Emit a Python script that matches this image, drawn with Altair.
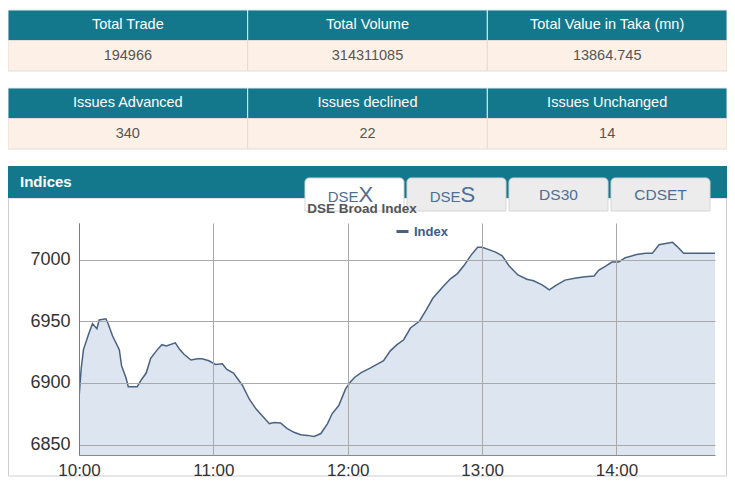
import altair as alt
import pandas as pd

# ---------------- data ----------------
t1_headers = ["Total Trade", "Total Volume", "Total Value in Taka (mn)"]
t1_values = ["194966", "314311085", "13864.745"]
t2_headers = ["Issues Advanced", "Issues declined", "Issues Unchanged"]
t2_values = ["340", "22", "14"]

panel_title = "Indices"
tabs = ["DSEX", "DSES", "DS30", "CDSET"]
tab_prefix = ["DSE", "DSE", "DS30", "CDSET"]
tab_suffix = ["X", "S", "", ""]
tab_active = [True, False, False, False]

chart_title = "DSE Broad Index"
series_name = "Index"

times = ["10:00", "10:01", "10:02", "10:04", "10:06", "10:08", "10:09", "10:12", "10:13", "10:15",
         "10:18", "10:19", "10:21", "10:22", "10:26", "10:28", "10:30", "10:32", "10:35", "10:37",
         "10:39", "10:43", "10:45", "10:47", "10:50", "10:53", "10:55", "10:58", "11:01", "11:04",
         "11:06", "11:09", "11:11", "11:13", "11:16", "11:19", "11:22", "11:25", "11:27", "11:30",
         "11:33", "11:36", "11:39", "11:42", "11:45", "11:48", "11:51", "11:53", "11:56", "11:59",
         "12:01", "12:03", "12:06", "12:10", "12:13", "12:16", "12:19", "12:22", "12:25", "12:28",
         "12:32", "12:35", "12:38", "12:43", "12:46", "12:49", "12:52", "12:55", "12:58", "13:00",
         "13:03", "13:06", "13:09", "13:12", "13:16", "13:20", "13:23", "13:27", "13:30", "13:33",
         "13:37", "13:42", "13:46", "13:50", "13:52", "13:55", "13:58", "14:01", "14:04", "14:09",
         "14:13", "14:16", "14:19", "14:22", "14:25", "14:27", "14:30", "14:44"]
index_values = [6888, 6912, 6927, 6938, 6948, 6944, 6951, 6952, 6948, 6938,
                6927, 6914, 6904, 6897, 6897, 6903, 6908, 6920, 6927, 6931,
                6930, 6932.5, 6927, 6923, 6918.6, 6919.6, 6919.6, 6918, 6915, 6915.5,
                6911, 6908, 6903, 6898, 6887, 6879, 6873, 6867, 6868, 6867.5,
                6863, 6860, 6858, 6857.5, 6856.6, 6859, 6867, 6875, 6881.7, 6895,
                6900.4, 6904.4, 6908.4, 6912, 6915, 6918, 6926, 6931, 6935, 6944.5,
                6950, 6959, 6968.6, 6979, 6984.6, 6988.6, 6995.3, 7003.4, 7010, 7010,
                7008, 7006, 7003, 6995, 6987.5, 6984, 6982.8, 6979.3, 6975.5, 6979,
                6983.3, 6985, 6986, 6986.6, 6991.3, 6994.5, 6998, 6998, 7001.5, 7004,
                7005, 7005, 7012, 7013, 7014, 7010.7, 7005, 7005]

x_tick_hours = [10, 11, 12, 13, 14]
y_ticks = [6850, 6900, 6950, 7000]
y_domain = [6841.6, 7029.6]

# ---------------- styles ----------------
TEAL = "#14788d"
PEACH = "#fdf1e7"
BASE = "Liberation Sans, Arial, sans-serif"
ONE = alt.Data(values=[{}])


def dt(h, m=0):
    return alt.DateTime(year=2024, month=1, date=1, hours=h, minutes=m)


def table(headers, values, yrange):
    rows = []
    for i, (h, v) in enumerate(zip(headers, values)):
        rows.append({"col": i, "row": "head", "text": h})
        rows.append({"col": i, "row": "val", "text": v})
    df = pd.DataFrame(rows)
    xs = alt.X("col:O", scale=alt.Scale(range=[-71, 648], paddingInner=0, paddingOuter=0), axis=None)
    ys = alt.Y("row:O", scale=alt.Scale(domain=["head", "val"], range=yrange,
                                         paddingInner=0, paddingOuter=0), axis=None)
    is_head = alt.datum.row == "head"
    cells = alt.Chart(df).mark_rect(strokeWidth=1).encode(
        x=xs, y=ys,
        fill=alt.condition(is_head, alt.value(TEAL), alt.value(PEACH)),
        stroke=alt.condition(is_head, alt.value("#dfe9ec"), alt.value("#e3dcd6")),
    )
    texts = alt.Chart(df).mark_text(font=BASE, fontSize=14.5, baseline="middle").encode(
        x=xs, y=ys, text="text:N",
        color=alt.condition(is_head, alt.value("#ffffff"), alt.value("#555555")),
    )
    return alt.layer(cells, texts)


table1 = table(t1_headers, t1_values, [-213, -152])
table2 = table(t2_headers, t2_values, [-135, -74])

# panel frame & header bar
frame = alt.Chart(ONE).mark_rect(fillOpacity=0, stroke="#cfcfcf", strokeWidth=1).encode(
    x=alt.value(-70.5), x2=alt.value(647.5), y=alt.value(-25), y2=alt.value(253))
bar = alt.Chart(ONE).mark_rect(fill=TEAL).encode(
    x=alt.value(-71), x2=alt.value(648), y=alt.value(-57), y2=alt.value(-25))
bar_text = alt.Chart(ONE).mark_text(text=panel_title, font=BASE, fontSize=15, fontWeight="bold",
                                    color="#ffffff", align="left", baseline="middle").encode(
    x=alt.value(-59), y=alt.value(-41))
header = alt.layer(frame, bar, bar_text)

# tabs
tab_df = pd.DataFrame({"tab": tabs, "prefix": tab_prefix, "suffix": tab_suffix, "active": tab_active})
tx = alt.X("tab:N", sort=tabs, scale=alt.Scale(range=[226, 631], paddingInner=0.03, paddingOuter=0),
           axis=None)
tab_rect = alt.Chart(tab_df).mark_rect(cornerRadiusTopLeft=4, cornerRadiusTopRight=4,
                                       stroke="#d6d6d6", strokeWidth=1).encode(
    x=tx, y=alt.value(-45), y2=alt.value(-12),
    fill=alt.condition("datum.active", alt.value("#ffffff"), alt.value("#ececec")))
tab_plain = alt.Chart(tab_df).transform_filter("datum.suffix == ''").mark_text(
    font=BASE, fontSize=15.5, color="#4f6e93", baseline="alphabetic").encode(
    x=tx, y=alt.value(-23), text="prefix:N")
tab_pre = alt.Chart(tab_df).transform_filter("datum.suffix != ''").mark_text(
    font=BASE, fontSize=15, color="#4f6e93", baseline="alphabetic", align="right", dx=4).encode(
    x=tx, y=alt.value(-21), text="prefix:N")
tab_suf = alt.Chart(tab_df).transform_filter("datum.suffix != ''").mark_text(
    font=BASE, fontSize=22, color="#4f6e93", baseline="alphabetic", align="left", dx=4).encode(
    x=tx, y=alt.value(-21), text="suffix:N")
title_text = alt.Chart(ONE).mark_text(text=chart_title, font=BASE, fontSize=13.5, fontWeight="bold",
                                      color="#555555", baseline="alphabetic", align="center").encode(
    x=alt.value(283), y=alt.value(-10))
tab_group = alt.layer(tab_rect, tab_plain, tab_pre, tab_suf, title_text)

# index chart
line_df = pd.DataFrame({
    "time": [f"2024-01-01T{t}:00" for t in times],
    "value": index_values,
    "series": series_name,
})
x_enc = alt.X("time:T",
              scale=alt.Scale(domain=[dt(10), dt(14, 44)], nice=False),
              axis=alt.Axis(values=[dt(h) for h in x_tick_hours], format="%H:%M", title=None,
                            grid=True, gridColor="#a9a9a9", domainColor="#8a8a8a", ticks=False,
                            labelFontSize=17, labelColor="#333333", labelPadding=7,
                            labelFlush=False, labelFont=BASE, zindex=1))
y_enc = alt.Y("value:Q",
              scale=alt.Scale(domain=y_domain, nice=False, zero=False),
              axis=alt.Axis(values=y_ticks, format="d", title=None, grid=True, gridColor="#a9a9a9",
                            domainColor="#7a7a7a", ticks=False, labelFontSize=18,
                            labelColor="#333333", labelPadding=9, labelFont=BASE, zindex=1))
area = alt.Chart(line_df).mark_area(color="#dce5f0", clip=True).encode(x=x_enc, y=y_enc)
line = alt.Chart(line_df).mark_line(strokeWidth=1.5, clip=True).encode(
    x=x_enc, y=y_enc,
    color=alt.Color("series:N", scale=alt.Scale(range=["#4a6281"]),
                    legend=alt.Legend(orient="none", legendX=316, legendY=1, title=None,
                                      symbolType="stroke", symbolStrokeWidth=3, symbolSize=144,
                                      labelFont=BASE, labelFontSize=13, labelFontWeight="bold",
                                      labelColor="#3d5b88", direction="horizontal",
                                      symbolStrokeColor="#2f5e97")))
index_chart = alt.layer(area, line)

chart = alt.layer(header, table1, table2, tab_group, index_chart).resolve_scale(
    x="independent", y="independent", color="independent"
).properties(
    width=636, height=232,
    autosize=alt.AutoSizeParams(type="none"),
    padding={"left": 71, "top": 215, "right": 12, "bottom": 23},
    background="#ffffff",
).configure_view(stroke=None)

chart.save("out.html", embed_options={"renderer": "svg", "actions": False})
